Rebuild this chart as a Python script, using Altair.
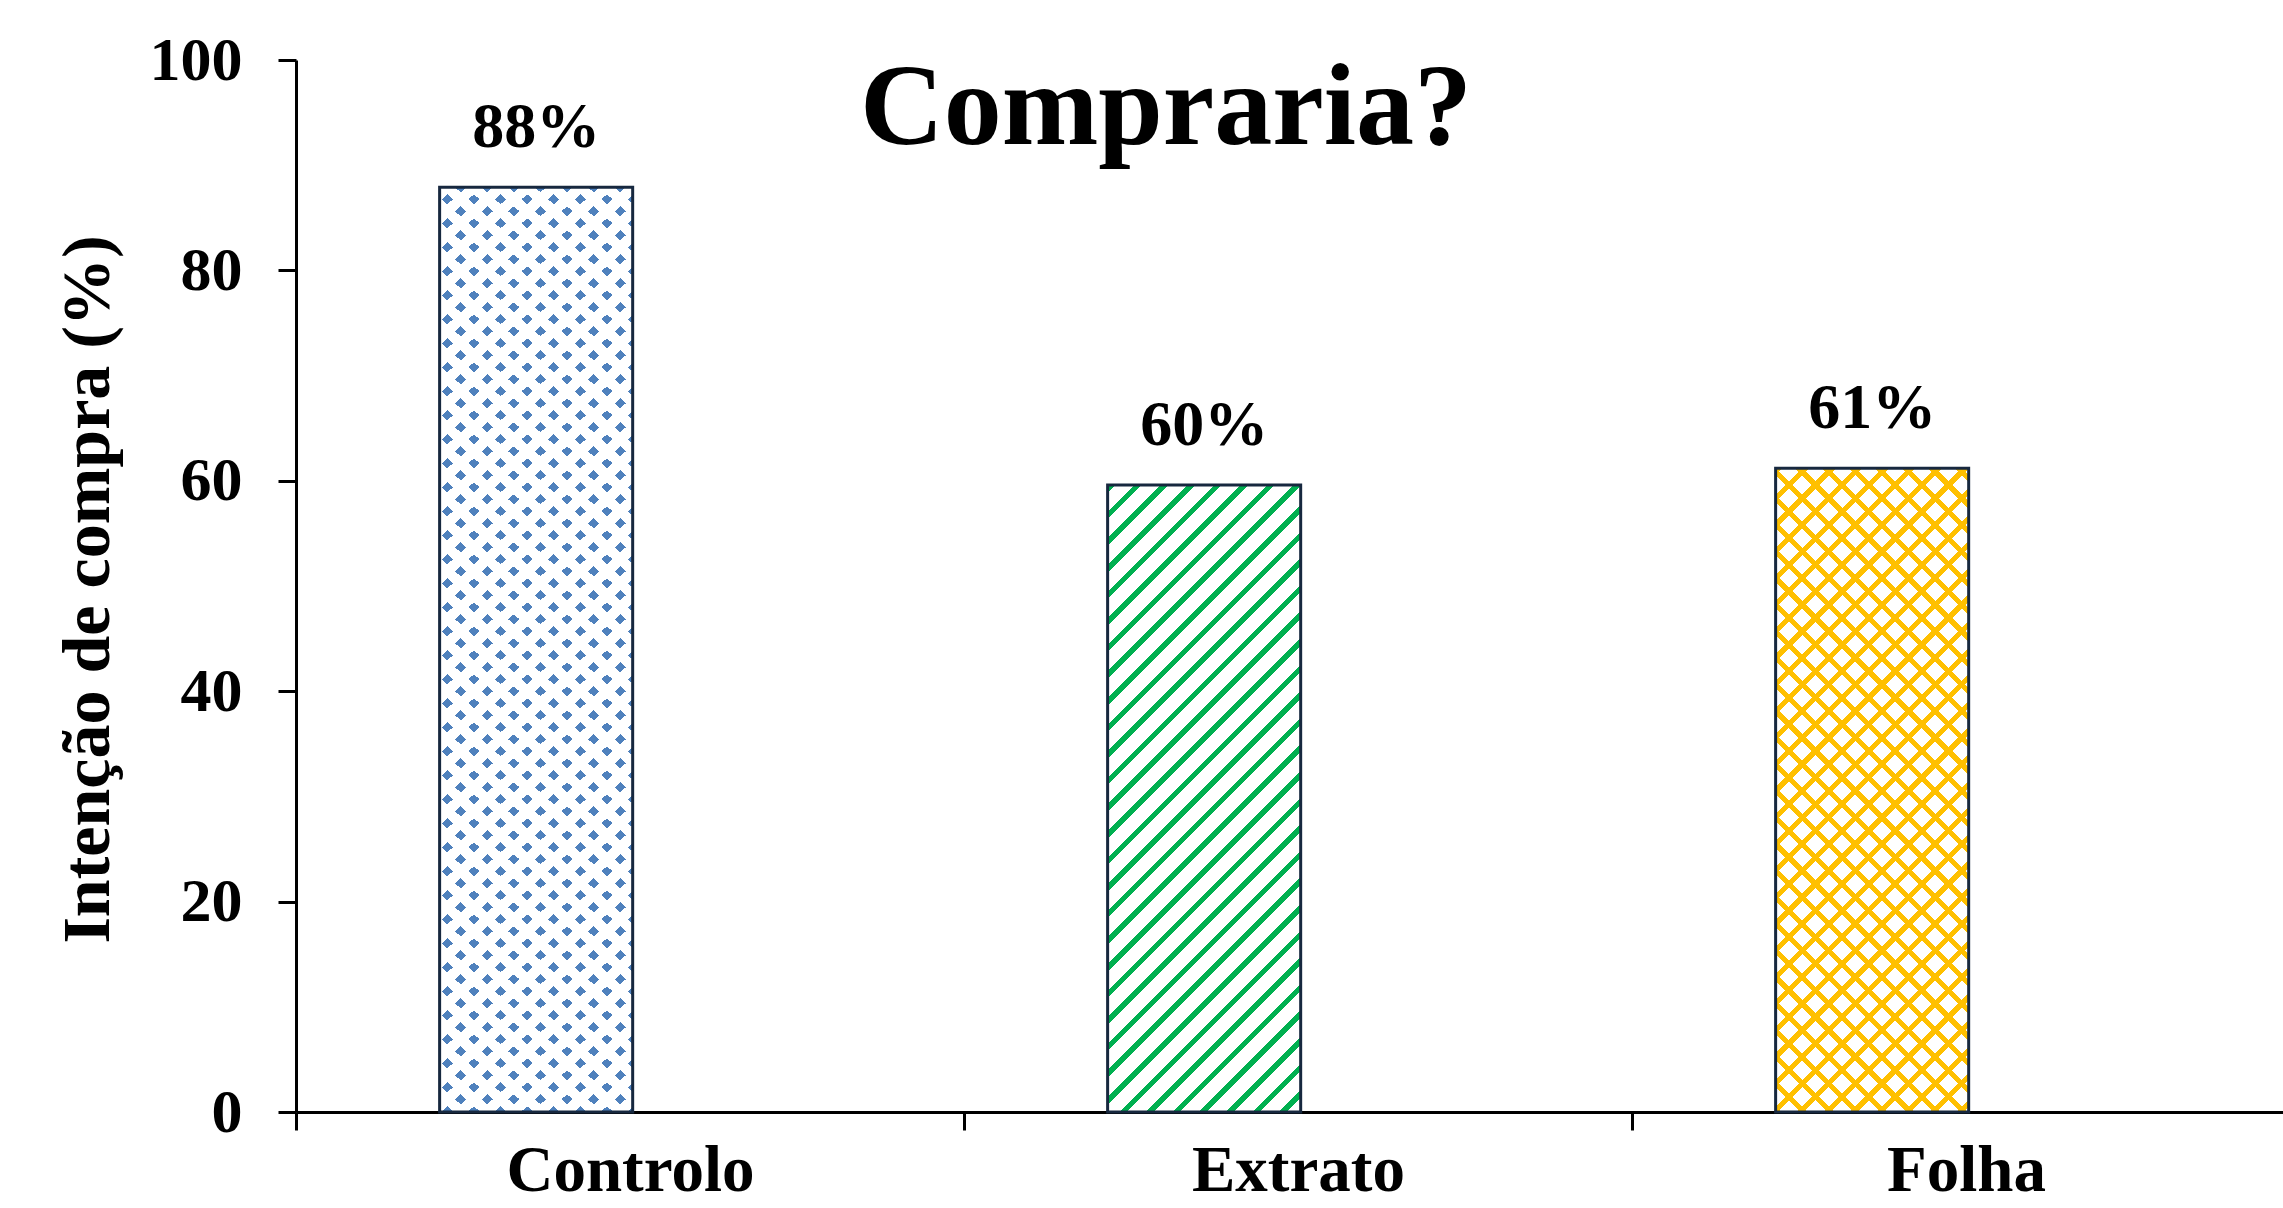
import math
import altair as alt
import pandas as pd

# ---- data ----
categories = ["Controlo", "Extrato", "Folha"]
values = [87.9, 59.6, 61.2]
y_ticks = [0, 20, 40, 60, 80, 100]
chart_title = "Compraria?"
y_title = "Intenção de compra (%)"

# ---- layout / style constants ----
W, H = 1987, 1052          # plot area in px
STEP = 668                 # px per category
XMAX = W / STEP
BAR_L, BAR_R = 0.215, 0.504
FONT = "Liberation Serif"
NAVY = "#17283f"
BLUE, GREEN, GOLD = "#4f81bd", "#00b050", "#ffc000"
WHITE, CLEAR = "#ffffff", "rgba(255,255,255,0)"

df = pd.DataFrame({"cat": categories, "idx": list(range(len(categories))), "value": values})


def stripes(w, h, dx, dy, period, frac, color, bg, phase=0.0):
    """Linear gradient (bbox units) producing parallel stripes along pixel direction (dx, dy)."""
    L = math.hypot(dx, dy)
    nx, ny = -dy / L, dx / L
    corners = [(0, 0), (1, 0), (0, 1), (1, 1)]
    ts = [nx * w * px + ny * h * py for px, py in corners]
    tmin, tmax = min(ts), max(ts)
    rng = tmax - tmin
    p1 = corners[ts.index(tmin)]
    gx, gy = nx * w / rng, ny * h / rng
    g2 = gx * gx + gy * gy
    p2 = (p1[0] + gx / g2, p1[1] + gy / g2)
    stops = [alt.GradientStop(color=bg, offset=0)]
    k = math.floor((tmin - phase) / period) - 1
    while phase + k * period < tmax:
        a = max(phase + k * period, tmin)
        b = min(phase + k * period + frac * period, tmax)
        if b > a:
            ua, ub = round((a - tmin) / rng, 5), round((b - tmin) / rng, 5)
            stops += [alt.GradientStop(color=bg, offset=ua), alt.GradientStop(color=color, offset=ua),
                      alt.GradientStop(color=color, offset=ub), alt.GradientStop(color=bg, offset=ub)]
        k += 1
    stops.append(alt.GradientStop(color=bg, offset=1))
    return alt.LinearGradient(gradient="linear", stops=stops,
                              x1=p1[0], y1=p1[1], x2=p2[0], y2=p2[1])


bw = (BAR_R - BAR_L) * STEP
bh = {c: v / 100 * H for c, v in zip(categories, values)}

hp = 26.6
dot_a = (13.3, 12.0)
dot_b = (-13.3, 12.0)
dot_period = abs(dot_a[0] * dot_b[1] - dot_a[1] * dot_b[0]) / math.hypot(*dot_a)
diag_period = hp / math.sqrt(2)

patterns = {
    "Controlo": [
        stripes(bw, bh["Controlo"], dot_a[0], dot_a[1], dot_period, 0.42, BLUE, WHITE),
        stripes(bw, bh["Controlo"], dot_b[0], dot_b[1], dot_period, 0.42, CLEAR, WHITE),
    ],
    "Extrato": [
        stripes(bw, bh["Extrato"], 1, -1, diag_period, 0.29, GREEN, WHITE),
    ],
    "Folha": [
        stripes(bw, bh["Folha"], 1, -1, diag_period, 0.27, GOLD, WHITE),
        stripes(bw, bh["Folha"], 1, 1, diag_period, 0.27, GOLD, CLEAR),
    ],
}

label_expr = " : ".join(
    f"datum.value == {i + 0.5} ? '{c}'" for i, c in enumerate(categories)
) + " : ''"

x_scale = alt.Scale(domain=[0, XMAX], nice=False, zero=False)
y_scale = alt.Scale(domain=[0, 100], nice=False)

x_axis = alt.Axis(
    title=None,
    values=[v / 2 for v in range(2 * len(categories))],
    labelExpr=label_expr,
    tickOpacity={"condition": {"test": "datum.value % 1 != 0", "value": 0}, "value": 1},
    labelFontSize=65, labelBaseline="alphabetic", labelPadding=60, labelLimit=1000,
    labelOverlap=False, labelFlush=False, labelBound=False, grid=False,
)
y_axis = alt.Axis(
    title=y_title, values=y_ticks, grid=False, labelFontSize=62, labelPadding=36,
    titleFontSize=68, titleAngle=270, titleX=-188, titleY=529,
    titleAlign="center", titleBaseline="alphabetic", titleLimit=2000,
)

base = alt.Chart(df).transform_calculate(
    x0=f"datum.idx + {BAR_L}", x1=f"datum.idx + {BAR_R}",
    xc=f"datum.idx + {(BAR_L + BAR_R) / 2}",
    lbl="format(datum.value, '.0f') + '%'",
)


def rect_enc():
    return dict(
        x=alt.X("x0:Q", scale=x_scale, axis=x_axis),
        x2="x1:Q",
        y=alt.Y("value:Q", scale=y_scale, axis=y_axis),
        y2=alt.datum(0),
    )


layers = []
for c in categories:
    for grad in patterns[c]:
        layers.append(
            base.transform_filter(alt.datum.cat == c)
            .mark_rect(fill=grad, strokeWidth=0)
            .encode(**rect_enc())
        )

outline = base.mark_rect(fill="transparent", stroke=NAVY, strokeWidth=3).encode(**rect_enc())
labels = base.mark_text(
    font=FONT, fontWeight="bold", fontSize=64, baseline="alphabetic", align="center",
    dy=-40, color="black",
).encode(
    x=alt.X("xc:Q", scale=x_scale, axis=x_axis),
    y=alt.Y("value:Q", scale=y_scale, axis=y_axis),
    text="lbl:N",
)

# chart title drawn inside the plot area (as in the reference)
title_mark = alt.Chart(pd.DataFrame({"t": [chart_title]})).mark_text(
    font=FONT, fontWeight="bold", fontSize=116, baseline="alphabetic", align="center",
    color="black",
).encode(x=alt.value(1166 - 296), y=alt.value(84), text="t:N")

chart = alt.layer(*layers, outline, labels, title_mark).properties(
    width=W, height=H,
    padding={"left": 296, "top": 60, "right": 0, "bottom": 96},
    autosize=alt.AutoSizeParams(type="none"),
    background="white",
).configure_view(strokeWidth=0, stroke="transparent").configure_axis(
    labelFont=FONT, labelFontWeight="bold", labelColor="black",
    titleFont=FONT, titleFontWeight="bold", titleColor="black",
    domainColor="black", domainWidth=3, tickColor="black", tickWidth=3, tickSize=18,
)

chart.save("out.html", embed_options={"renderer": "svg", "actions": False})
